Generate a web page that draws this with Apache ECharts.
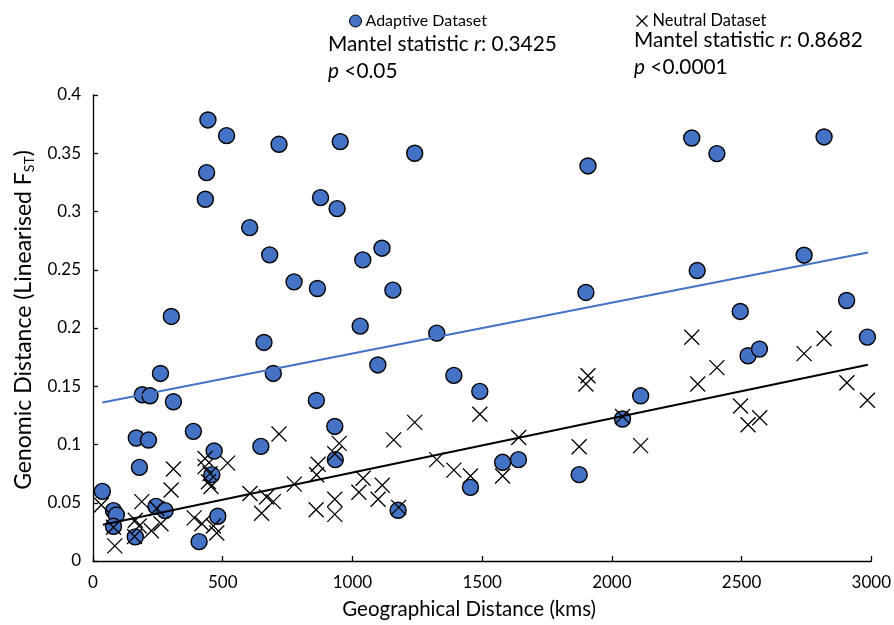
<!DOCTYPE html>
<html>
<head>
<meta charset="utf-8">
<script src="https://cdn.jsdelivr.net/npm/echarts@6/dist/echarts.min.js"></script>
<style>html,body{margin:0;padding:0;background:#fff}#c{width:894px;height:625px}</style>
</head>
<body>
<div id="c"></div>
<script>
// Adaptive dataset: [geographical distance (km), linearised FST]
const adaptivePoints = [
  [443,0.3786],[515,0.3651],[717,0.3577],[953,0.3600],[438,0.3334],[433,0.3105],
  [877,0.3119],[941,0.3025],[604,0.2862],[681,0.2628],[1114,0.2685],[1040,0.2585],
  [775,0.2396],[865,0.2339],[302,0.2099],[1030,0.2016],[659,0.1876],[1098,0.1683],
  [260,0.1610],[695,0.1610],[190,0.1427],[220,0.1418],[310,0.1367],[861,0.1378],
  [932,0.1155],[387,0.1113],[167,0.1056],[214,0.1038],[647,0.0984],[467,0.0944],
  [179,0.0804],[458,0.0741],[36,0.0598],[79,0.0432],[90,0.0395],[243,0.0469],
  [278,0.0432],[481,0.0384],[79,0.0298],[163,0.0207],[409,0.0166],[934,0.0870],
  [1491,0.1456],[1579,0.0847],[1640,0.0870],[1455,0.0632],[1176,0.0435],[1874,0.0741],
  [2041,0.1219],[1240,0.3500],[1908,0.3391],[1156,0.2325],[1900,0.2305],[1325,0.1956],
  [1391,0.1593],[2308,0.3631],[2405,0.3497],[2818,0.3640],[2329,0.2493],[2741,0.2625],
  [2495,0.2142],[2905,0.2236],[2985,0.1922],[2525,0.1762],[2569,0.1819],[2111,0.1418]
];
// Neutral dataset
const neutralPoints = [
  [32,0.048],[79,0.029],[84,0.013],[160,0.021],[163,0.035],[178,0.030],[188,0.051],
  [225,0.026],[246,0.045],[262,0.032],[301,0.061],[310,0.079],[390,0.037],[420,0.032],
  [432,0.081],[432,0.088],[445,0.068],[451,0.075],[455,0.064],[464,0.030],[477,0.024],
  [519,0.084],[605,0.058],[650,0.041],[669,0.055],[695,0.051],[717,0.109],[776,0.066],
  [860,0.044],[862,0.074],[868,0.083],[932,0.092],[949,0.101],[932,0.053],[932,0.040],
  [1025,0.059],[1041,0.071],[1099,0.053],[1115,0.065],[1159,0.104],[1178,0.046],
  [1240,0.119],[1325,0.087],[1391,0.078],[1455,0.073],[1491,0.126],[1579,0.073],
  [1641,0.106],[1874,0.098],[1900,0.152],[1908,0.159],[2041,0.124],[2111,0.099],
  [2308,0.192],[2331,0.152],[2405,0.166],[2496,0.133],[2525,0.117],[2570,0.123],
  [2741,0.178],[2818,0.191],[2906,0.153],[2985,0.138]
];
// Trend lines (endpoints)
const adaptiveTrend = [[36,0.1361],[2987,0.2648]];
const neutralTrend = [[38,0.0312],[2987,0.1684]];
// Texts
const seriesNames = ['Adaptive Dataset','Neutral Dataset'];
const adaptiveStats = ['Mantel statistic {i|r}: 0.3425','{i|p} <0.05'];
const neutralStats = ['Mantel statistic {i|r}: 0.8682','{i|p} <0.0001'];

const FONT = 'Lato';
const BLUE = '#4472C4';
const crossPath = 'path://M0,0L10,10M10,0L0,10';

const chart = echarts.init(document.getElementById('c'), null, {renderer:'canvas'});
const statStyle = {fontFamily:FONT, fontSize:20.8, fontWeight:'normal', color:'#000', lineHeight:27,
  rich:{i:{fontFamily:FONT, fontSize:20.8, fontWeight:'normal', fontStyle:'italic', color:'#000'}}};
chart.setOption({
  animation:false,
  backgroundColor:'#fff',
  textStyle:{fontFamily:FONT},
  title:[
    {text: adaptiveStats.join('\n'), left:323, top:26, textStyle:statStyle},
    {text: neutralStats.join('\n'), left:629, top:22, textStyle:statStyle}
  ],
  legend:[
    {data:[{name:seriesNames[0], icon:'circle', itemStyle:{color:BLUE, borderColor:'#000', borderWidth:1}}],
     left:344, top:8, itemWidth:12, itemHeight:12, itemGap:4,
     textStyle:{fontFamily:FONT, fontSize:16, color:'#000', padding:[0,0,0,-1]}},
    {data:[{name:seriesNames[1], icon:crossPath, itemStyle:{color:'none', borderColor:'#000', borderWidth:1.3}}],
     left:629, top:8, itemWidth:11, itemHeight:11, itemGap:4,
     textStyle:{fontFamily:FONT, fontSize:16.4, color:'#000', padding:[0,0,0,0]}}
  ],
  grid:{left:93, right:21, top:95, bottom:64, containLabel:false},
  xAxis:{
    type:'value', min:0, max:3000, interval:500,
    name:'Geographical Distance (kms)', nameLocation:'middle', nameGap:38,
    nameTextStyle:{fontFamily:FONT, fontSize:20.5, color:'#000', padding:[0,26,0,0]},
    axisLine:{lineStyle:{color:'#000', width:1.3}},
    axisTick:{inside:true, length:5, lineStyle:{color:'#000', width:1.3}},
    axisLabel:{fontFamily:FONT, fontSize:17, color:'#000', margin:13, formatter:v=>String(v)},
    splitLine:{show:false}
  },
  yAxis:{
    type:'value', min:0, max:0.4, interval:0.05,
    name:'Genomic Distance (Linearised F{sub|ST})', nameLocation:'middle', nameGap:57,
    nameTextStyle:{fontFamily:FONT, fontSize:23, color:'#000', padding:[0,0,0,16],
      rich:{sub:{fontFamily:FONT, fontSize:14, color:'#000', padding:[11,0,0,0]}}},
    axisLine:{show:true, lineStyle:{color:'#000', width:1.3}},
    axisTick:{show:true, inside:true, length:5, lineStyle:{color:'#000', width:1.3}},
    axisLabel:{fontFamily:FONT, fontSize:17, color:'#000', margin:12},
    splitLine:{show:false}
  },
  series:[
    {name:seriesNames[0], type:'scatter', data:adaptivePoints, symbol:'circle', symbolSize:16,
     itemStyle:{color:BLUE, borderColor:'#000', borderWidth:1.4, opacity:1}, z:2},
    {name:seriesNames[1], type:'scatter', data:neutralPoints, symbol:crossPath, symbolSize:15,
     itemStyle:{color:'none', borderColor:'#000', borderWidth:1.3, opacity:1}, z:3},
    {name:'adaptiveTrend', type:'line', data:adaptiveTrend, showSymbol:false, symbol:'none',
     lineStyle:{color:BLUE, width:2}, z:4},
    {name:'neutralTrend', type:'line', data:neutralTrend, showSymbol:false, symbol:'none',
     lineStyle:{color:'#000', width:2}, z:4}
  ]
});
</script>
</body>
</html>
